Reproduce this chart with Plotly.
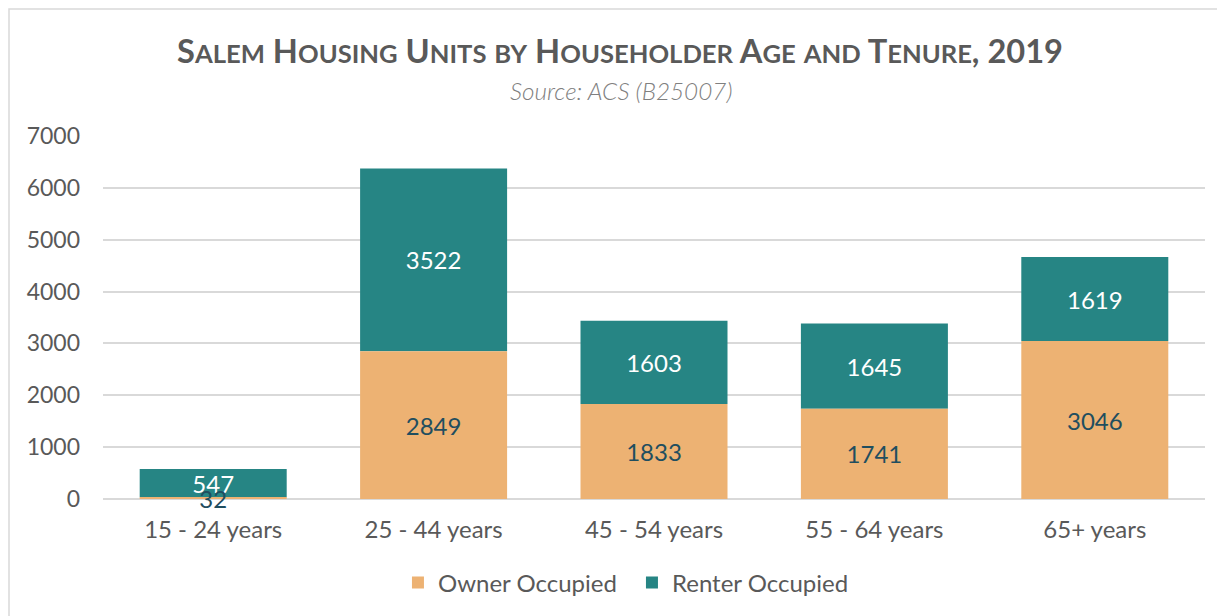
import plotly.graph_objects as go

# Salem housing units by householder age and tenure (ACS B25007, 2019)
age_groups = ['15 - 24 years', '25 - 44 years', '45 - 54 years', '55 - 64 years', '65+ years']
owner_occupied = [32, 2849, 1833, 1741, 3046]
renter_occupied = [547, 3522, 1603, 1645, 1619]
y_ticks = [0, 1000, 2000, 3000, 4000, 5000, 6000, 7000]


def small_caps(text, small=25.6):
    # fake small caps with spans: capitals stay big, lowercase becomes small uppercase
    out = ''
    for ch in text:
        if ch.islower():
            out += "<span style='font-size:%spx'>%s</span>" % (small, ch.upper())
        else:
            out += ch
    return out


title_text = small_caps('Salem Housing Units by Householder Age and Tenure, 2019')

fig = go.Figure()
# renter bars drawn first (sitting on top of owner values) so the owner labels land on top
fig.add_trace(go.Bar(
    x=age_groups, y=renter_occupied, base=owner_occupied, name='Renter Occupied',
    marker_color='#268584', marker_line_width=0, legendrank=2,
    text=renter_occupied, textposition='inside', insidetextanchor='middle', textangle=0,
    textfont=dict(family='Lato', size=24, color='white'),
))
fig.add_trace(go.Bar(
    x=age_groups, y=owner_occupied, name='Owner Occupied',
    marker_color='#EDB273', marker_line_width=0, legendrank=1,
    text=owner_occupied, textposition='inside', insidetextanchor='middle', textangle=0,
    textfont=dict(family='Lato', size=24, color='#1F4E5F'),
    cliponaxis=False,
))

fig.update_layout(
    barmode='overlay',
    bargap=0.333,
    width=1225, height=616,
    margin=dict(l=95, r=28, t=128, b=125),
    plot_bgcolor='white',
    paper_bgcolor='white',
    font=dict(family='Lato', color='#595959', size=24),
    uniformtext=dict(minsize=24, mode='show'),
    title=dict(
        text=title_text,
        x=0.4996, xanchor='center', y=0.9286, yanchor='middle',
        font=dict(family='Lato', size=32.6, color='#595959', weight='bold'),
    ),
    annotations=[dict(
        text='<i>Source: ACS (B25007)</i>', xref='paper', yref='paper',
        x=0.470, y=1.1267, xanchor='center', yanchor='middle', showarrow=False,
        font=dict(family='Lato', size=24.3, color='#808080', weight=300),
    )],
    xaxis=dict(
        showgrid=False, showline=False, ticks='', ticklabelstandoff=14,
        tickfont=dict(size=24, color='#595959'),
    ),
    yaxis=dict(
        range=[0, 7000], tickvals=y_ticks,
        showgrid=True, gridcolor='#D9D9D9', gridwidth=1.5,
        zeroline=True, zerolinecolor='#D9D9D9', zerolinewidth=1.5,
        showline=False, ticks='', ticklabelstandoff=22,
        tickfont=dict(size=23, color='#595959'),
    ),
    legend=dict(
        orientation='h', x=0.48, xanchor='center', y=-0.231, yanchor='middle',
        font=dict(size=24, color='#595959'),
        itemwidth=30, entrywidth=189, entrywidthmode='pixels',
    ),
    shapes=[dict(
        type='rect', xref='paper', yref='paper',
        x0=-0.0853, x1=1.2, y0=-0.5, y1=1.3499,
        line=dict(color='#D9D9D9', width=1.5), fillcolor='rgba(0,0,0,0)', layer='below',
    )],
)

fig.write_html('out.html')
